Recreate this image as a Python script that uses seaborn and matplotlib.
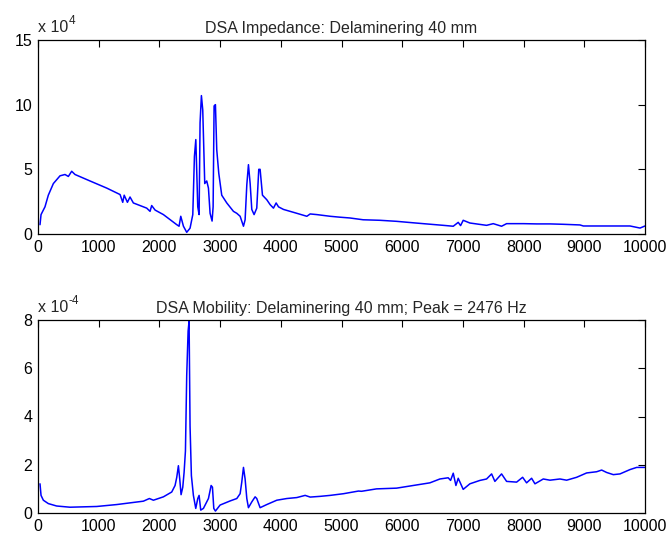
import numpy as np
import matplotlib
matplotlib.use("Agg")
import matplotlib.pyplot as plt
import matplotlib.transforms as mtransforms
import seaborn as sns

# top panel: impedance, values in units of 1e4
imp_freq = [33, 50, 77, 115, 170, 253, 363, 445, 500, 555, 610, 857, 1132, 1352, 1396,
            1420, 1473, 1516, 1571, 1791, 1846, 1873, 1929, 2066, 2286, 2324, 2352, 2396,
            2450, 2505, 2550, 2577, 2600, 2632, 2654, 2670, 2692, 2714, 2747, 2780, 2808,
            2835, 2868, 2885, 2901, 2923, 2945, 2978, 3027, 3110, 3220, 3275, 3330, 3385,
            3412, 3440, 3467, 3495, 3522, 3560, 3604, 3637, 3659, 3698, 3769, 3824, 3879,
            3923, 3962, 4044, 4264, 4429, 4484, 4594, 4813, 4973, 5137, 5357, 5632, 5907,
            6099, 6346, 6676, 6841, 6923, 6962, 7005, 7115, 7390, 7500, 7637, 7720, 8000,
            8214, 8434, 8654, 8929, 8984, 9753, 9918, 10000]
imp_val = [0.72, 1.5, 1.75, 2.1, 3.0, 3.9, 4.5, 4.6, 4.45, 4.85, 4.6, 4.1, 3.55, 3.05, 2.45,
           3.0, 2.45, 2.86, 2.4, 2.0, 1.75, 2.2, 1.85, 1.5, 0.72, 0.6, 1.37, 0.6,
           0.13, 0.45, 1.5, 6.0, 7.3, 2.1, 1.5, 8.6, 10.7, 9.6, 3.9, 4.1, 3.55,
           1.6, 1.0, 2.1, 9.9, 10.0, 6.5, 4.7, 3.0, 2.4, 1.75, 1.6, 1.37, 0.6,
           1.1, 3.8, 5.36, 3.9, 1.9, 1.5, 2.0, 5.0, 5.0, 3.0, 2.65, 2.27, 2.0,
           2.4, 2.1, 1.9, 1.6, 1.37, 1.55, 1.5, 1.37, 1.3, 1.24, 1.1, 1.06, 0.98,
           0.9, 0.8, 0.67, 0.6, 0.9, 0.65, 1.06, 0.85, 0.67, 0.8, 0.6, 0.8, 0.8,
           0.78, 0.78, 0.75, 0.7, 0.62, 0.62, 0.46, 0.62]

# bottom panel: mobility, values in units of 1e-4
mob_freq = [33, 50, 88, 170, 307, 527, 967, 1297, 1516, 1736, 1835, 1901, 2066, 2203,
            2258, 2286, 2313, 2335, 2357, 2385, 2407, 2429, 2450, 2473, 2489, 2505, 2527,
            2560, 2599, 2632, 2654, 2681, 2725, 2808, 2852, 2874, 2896, 2923, 3000, 3165,
            3275, 3330, 3357, 3385, 3412, 3440, 3467, 3522, 3577, 3604, 3659, 3769, 3934,
            4099, 4264, 4401, 4484, 4648, 4813, 5033, 5280, 5330, 5577, 5907, 6181, 6456,
            6621, 6758, 6797, 6841, 6885, 6923, 7005, 7115, 7280, 7390, 7473, 7527, 7637,
            7720, 7885, 7984, 8049, 8132, 8187, 8324, 8434, 8599, 8709, 8874, 9038, 9203,
            9286, 9368, 9478, 9588, 9753, 9863, 10000]
mob_val = [1.21, 0.73, 0.53, 0.39, 0.29, 0.24, 0.27, 0.35, 0.42, 0.49, 0.6, 0.53, 0.67, 0.87,
           1.14, 1.48, 1.96, 1.41, 0.76, 1.07, 1.69, 2.57, 5.7, 7.54, 7.95, 3.6, 1.55,
           0.73, 0.19, 0.6, 0.73, 0.12, 0.19, 0.6, 1.14, 1.07, 0.19, 0.08, 0.33, 0.5,
           0.6, 0.8, 1.28, 1.89, 1.41, 0.6, 0.22, 0.46, 0.67, 0.6, 0.22, 0.35, 0.53,
           0.6, 0.64, 0.73, 0.66, 0.69, 0.73, 0.8, 0.91, 0.9, 1.0, 1.03, 1.14, 1.25,
           1.41, 1.46, 1.35, 1.65, 1.14, 1.44, 0.98, 1.21, 1.35, 1.41, 1.62, 1.31, 1.62,
           1.31, 1.28, 1.48, 1.25, 1.44, 1.21, 1.41, 1.36, 1.41, 1.36, 1.48, 1.66, 1.71,
           1.78, 1.68, 1.59, 1.62, 1.8, 1.89, 1.89]

x_ticks = list(range(0, 10001, 1000))

sns.set_style("white")
plt.rcParams["font.family"] = ["Liberation Sans", "DejaVu Sans"]
plt.rcParams["font.size"] = 11.5

fig = plt.figure(figsize=(6.7, 5.39), dpi=100)
ax1 = fig.add_axes([38/670, 1-234/539, 607/670, 194/539])
ax2 = fig.add_axes([38/670, 1-513/539, 607/670, 193/539])

panels = [
    (ax1, imp_freq, imp_val, 15, [0, 5, 10, 15], "4", "DSA Impedance: Delaminering 40 mm"),
    (ax2, mob_freq, mob_val, 8, [0, 2, 4, 6, 8], "-4",
     "DSA Mobility: Delaminering 40 mm; Peak = 2476 Hz"),
]

fig.canvas.draw()
renderer = fig.canvas.get_renderer()

for ax, xf, yv, ymax, yt, expo, title in panels:
    sns.lineplot(x=xf, y=yv, ax=ax, color="#0000ff", linewidth=1.1, estimator=None, sort=False)
    ax.set_xlim(0, 10000)
    ax.set_ylim(0, ymax)
    ax.set_xticks(x_ticks)
    ax.set_xticklabels([str(t) for t in x_ticks])
    ax.set_yticks(yt)
    ax.tick_params(direction="in", length=5, width=0.8, top=True, right=True,
                   labelsize=11.5, colors="black", pad=4)
    for s in ax.spines.values():
        s.set_color("black")
        s.set_linewidth(0.9)
    ax.set_title(title, fontsize=11.5, pad=5)
    base = ax.text(0.0, 1.025, "x 10", transform=ax.transAxes, fontsize=11.5,
                   ha="left", va="bottom")
    w = base.get_window_extent(renderer=renderer).width
    off = mtransforms.offset_copy(ax.transAxes, fig=fig, x=w * 72 / fig.dpi + 0.5,
                                  y=6, units="points")
    ax.text(0.0, 1.025, expo, transform=off, fontsize=8.5, ha="left", va="bottom")

fig.savefig("out.png", dpi=100, facecolor="white")
